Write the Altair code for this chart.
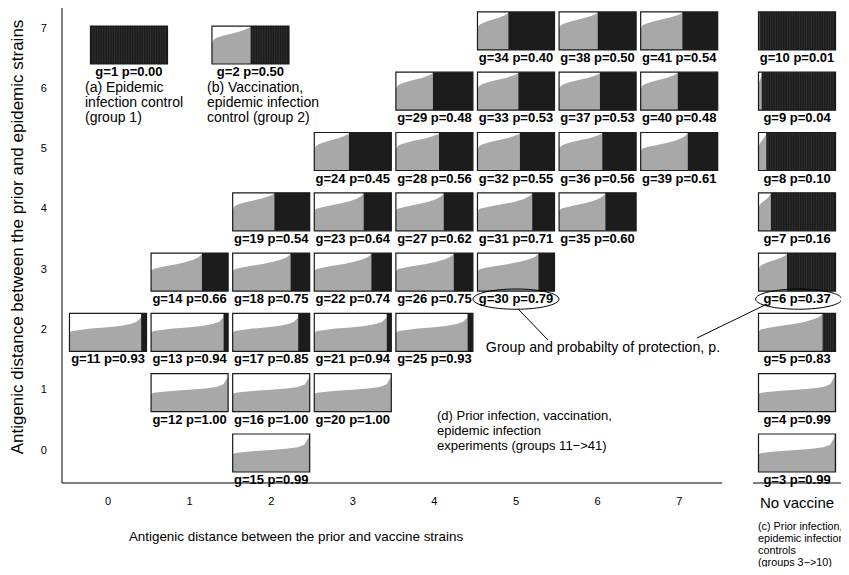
import altair as alt
import pandas as pd

# ---------------- data ----------------
NV = 8.444  # position of the "No vaccine" column on the vaccine-distance axis

group_ids = list(range(1, 42))
group_vx = [0.257, 1.746, NV, NV, NV, NV, NV, NV, NV, NV,
            0, 1, 1, 1, 2, 2, 2, 2, 2, 3, 3, 3, 3, 3,
            4, 4, 4, 4, 4, 5, 5, 5, 5, 5, 6, 6, 6, 6, 7, 7, 7]
group_ey = [6.766, 6.766, 0, 1, 2, 3, 4, 5, 6, 7,
            2, 1, 2, 3, 0, 1, 2, 3, 4, 1, 2, 3, 4, 5,
            2, 3, 4, 5, 6, 3, 4, 5, 6, 7, 4, 5, 6, 7, 5, 6, 7]
group_p = [0.00, 0.50, 0.99, 0.99, 0.83, 0.37, 0.16, 0.10, 0.04, 0.01,
           0.93, 1.00, 0.94, 0.66, 0.99, 1.00, 0.85, 0.75, 0.54, 1.00,
           0.94, 0.74, 0.64, 0.45, 0.93, 0.75, 0.62, 0.56, 0.48, 0.79,
           0.71, 0.55, 0.53, 0.40, 0.60, 0.56, 0.53, 0.50, 0.61, 0.48, 0.54]

# sorted response curves (fraction of panel height) along the protected part
profile_t = [0.0, 0.04, 0.12, 0.30, 0.50, 0.70, 0.85, 0.94, 1.0]
profile_high = [0.47, 0.50, 0.52, 0.55, 0.58, 0.61, 0.65, 0.72, 0.93]
profile_upper = [0.50, 0.54, 0.56, 0.60, 0.63, 0.67, 0.72, 0.78, 0.90]
profile_mid = [0.52, 0.58, 0.61, 0.66, 0.71, 0.77, 0.84, 0.90, 0.97]
profile_low = [0.55, 0.64, 0.69, 0.75, 0.80, 0.85, 0.90, 0.94, 0.97]

x_tick_values = [0, 1, 2, 3, 4, 5, 6, 7]
y_tick_values = [0, 1, 2, 3, 4, 5, 6, 7]

left_notes = [
    ("(a) Epidemic", -0.282, 6.050, 14),
    ("infection control", -0.282, 5.810, 14),
    ("(group 1)", -0.282, 5.561, 14),
    ("(b) Vaccination,", 1.213, 6.050, 14),
    ("epidemic infection", 1.213, 5.810, 14),
    ("control (group 2)", 1.213, 5.561, 14),
    ("(d) Prior infection, vaccination,", 4.032, 0.613, 13),
    ("epidemic infection", 4.032, 0.365, 13),
    ("experiments (groups 11\u2212>41)", 4.032, 0.116, 13),
    ("(c) Prior infection,", 7.966, -1.227, 10.8),
    ("epidemic infection", 7.966, -1.426, 10.8),
    ("controls", 7.966, -1.625, 10.8),
    ("(groups 3\u2212>10)", 7.966, -1.824, 10.8),
]
center_notes = [
    ("Group and probabilty of protection, p.", 6.066, 1.741, 14.2),
    ("No vaccine", NV, -0.829, 15),
    ("Antigenic distance between the prior and vaccine strains", 2.304, -1.393, 13.4),
]
y_title = ("Antigenic distance between the prior and epidemic strains", -1.103, 3.582, 17)

# ellipses around two of the labels and their pointer lines
ellipse_x = [5.0, NV + 0.02]
ellipse_y = [2.552, 2.552]
pointer_x = [5.025, 7.218]
pointer_y = [2.390, 1.907]
pointer_x2 = [5.392, 8.076]
pointer_y2 = [1.874, 2.471]

XMIN, XMAX = -0.5637, 8.983
YMIN, YMAX = -0.4975, 7.380
# axis lines: bottom axis is broken before the "No vaccine" column
axis_seg_x = [XMIN, 7.904, XMIN]
axis_seg_x2 = [7.525, XMAX, XMIN]
axis_seg_y = [YMIN, YMIN, YMIN]
axis_seg_y2 = [YMIN, YMIN, YMAX]

X_TICK_LABEL_Y = -0.813
Y_TICK_LABEL_X = -0.748

PW, PH = 0.944, 0.63   # panel size in axis units
N_BARS = 32
LABEL_DY = 0.448

# ---------------- build tables ----------------
def pick_profile(p):
    if p >= 0.97:
        return profile_high
    if p >= 0.85:
        return profile_upper
    if p >= 0.6:
        return profile_mid
    return profile_low

area_rows, black_rows, frame_rows, stripe_rows, label_rows = [], [], [], [], []
for g, vx, ey, p in zip(group_ids, group_vx, group_ey, group_p):
    x0, x1 = vx - PW / 2, vx + PW / 2
    y0, y1 = ey - PH / 2, ey + PH / 2
    xs = x0 + p * PW
    frame_rows.append(dict(g=g, x=x0, x2=x1, y=y0, y2=y1))
    if p > 0:
        for t, h in zip(profile_t, pick_profile(p)):
            area_rows.append(dict(g=g, x=x0 + t * p * PW, y=y0 + h * PH, y2=y0))
    if p < 1:
        black_rows.append(dict(g=g, x=xs, x2=x1, y=y0, y2=y1))
    if g <= 10:
        for k in range(1, N_BARS):
            xk = x0 + k / N_BARS * PW
            if xk > xs + 0.005:
                stripe_rows.append(dict(g=g, x=xk, y=y0, y2=y1))
    label_rows.append(dict(g=g, x=vx, y=ey - LABEL_DY, text=f"g={g} p={p:.2f}"))

area_df = pd.DataFrame(area_rows)
black_df = pd.DataFrame(black_rows)
frame_df = pd.DataFrame(frame_rows)
stripe_df = pd.DataFrame(stripe_rows)
label_df = pd.DataFrame(label_rows)
left_df = pd.DataFrame(left_notes, columns=["text", "x", "y", "fs"])
center_df = pd.DataFrame(center_notes, columns=["text", "x", "y", "fs"])
ytitle_df = pd.DataFrame([y_title], columns=["text", "x", "y", "fs"])
ell_df = pd.DataFrame(dict(x=ellipse_x, y=ellipse_y))
ptr_df = pd.DataFrame(dict(x=pointer_x, y=pointer_y, x2=pointer_x2, y2=pointer_y2))
seg_df = pd.DataFrame(dict(x=axis_seg_x, x2=axis_seg_x2, y=axis_seg_y, y2=axis_seg_y2))
xtick_df = pd.DataFrame(dict(x=x_tick_values, y=[X_TICK_LABEL_Y] * len(x_tick_values),
                             text=[str(v) for v in x_tick_values]))
ytick_df = pd.DataFrame(dict(x=[Y_TICK_LABEL_X] * len(y_tick_values),
                             y=[v + 0.04 for v in y_tick_values],
                             text=[str(v) for v in y_tick_values]))

FONT = "Liberation Sans"
xsc = alt.Scale(domain=[XMIN, XMAX], nice=False, zero=False)
ysc = alt.Scale(domain=[YMIN, YMAX], nice=False, zero=False)

X = lambda f="x:Q": alt.X(f, scale=xsc, axis=None)
Y = lambda f="y:Q": alt.Y(f, scale=ysc, axis=None)

grey = alt.Chart(area_df).mark_area(color="#a8a8a8", interpolate="linear").encode(
    x=X(), y=Y(), y2="y2:Q", detail="g:N",
)

black = alt.Chart(black_df).mark_rect(color="#1c1c1c").encode(
    x=X(), x2="x2:Q", y=Y(), y2="y2:Q",
)

stripes = alt.Chart(stripe_df).mark_rule(color="#383838", strokeWidth=0.7).encode(
    x=X(), y=Y(), y2="y2:Q",
)

frames = alt.Chart(frame_df).mark_rect(fill=None, stroke="#1a1a1a", strokeWidth=1.2).encode(
    x=X(), x2="x2:Q", y=Y(), y2="y2:Q",
)

labels = alt.Chart(label_df).mark_text(font=FONT, fontSize=13, fontWeight="bold",
                                       color="#000", baseline="middle", align="center").encode(
    x=X(), y=Y(), text="text:N",
)

left_text = alt.Chart(left_df).mark_text(font=FONT, color="#000", baseline="middle",
                                         align="left").encode(
    x=X(), y=Y(), size=alt.Size("fs:Q", scale=None, legend=None), text="text:N",
)

center_text = alt.Chart(center_df).mark_text(font=FONT, color="#000", baseline="middle",
                                             align="center").encode(
    x=X(), y=Y(), size=alt.Size("fs:Q", scale=None, legend=None), text="text:N",
)

ytitle = alt.Chart(ytitle_df).mark_text(font=FONT, color="#000", baseline="middle",
                                        align="center", angle=270).encode(
    x=X(), y=Y(), size=alt.Size("fs:Q", scale=None, legend=None), text="text:N",
)

xticks = alt.Chart(xtick_df).mark_text(font=FONT, fontSize=11, color="#000",
                                       baseline="middle", align="center").encode(
    x=X(), y=Y(), text="text:N",
)

yticks = alt.Chart(ytick_df).mark_text(font=FONT, fontSize=11, color="#000",
                                       baseline="middle", align="right").encode(
    x=X(), y=Y(), text="text:N",
)

ELLIPSE = "M -1 0 A 1 0.235 0 1 1 1 0 A 1 0.235 0 1 1 -1 0 Z"
ellipses = alt.Chart(ell_df).mark_point(shape=ELLIPSE, filled=False, stroke="#000",
                                        strokeWidth=1, size=7400, opacity=1).encode(
    x=X(), y=Y(),
)

pointers = alt.Chart(ptr_df).mark_rule(color="#000", strokeWidth=1).encode(
    x=X(), x2="x2:Q", y=Y(), y2="y2:Q",
)

segments = alt.Chart(seg_df).mark_rule(color="#000", strokeWidth=1).encode(
    x=X(), x2="x2:Q", y=Y(), y2="y2:Q",
)

chart = alt.layer(
    grey, black, stripes, frames, labels, left_text, center_text, ytitle,
    xticks, yticks, ellipses, pointers, segments,
).properties(
    width=779, height=475,
    padding={"left": 54, "top": 0, "right": 0, "bottom": 84},
    autosize=alt.AutoSizeParams(type="none"),
    background="white",
).configure_view(stroke=None)

chart.save("out.html", embed_options={"renderer": "svg", "actions": False})
